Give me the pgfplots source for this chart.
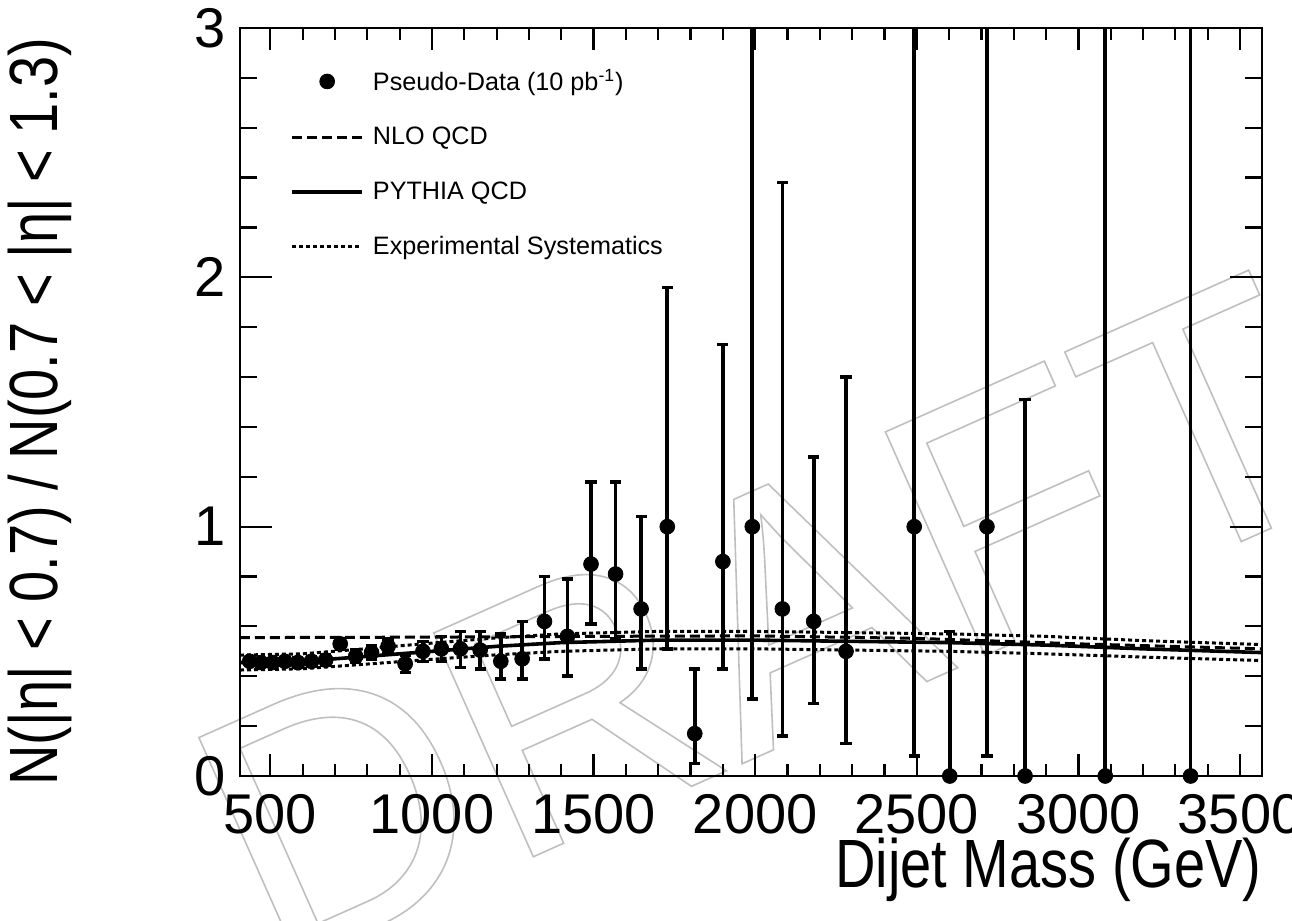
\documentclass[border=0pt]{standalone}
\usepackage{fontspec}
\setmainfont{Liberation Sans}
\usepackage{graphicx}
\usepackage{pgfplots}
\pgfplotsset{compat=1.18}
\usepackage{pgfplotstable}

\pgfplotstableread{
x y ep em
436 0.460 0.015 0.015
471 0.455 0.015 0.015
507 0.455 0.015 0.015
545 0.460 0.015 0.015
585 0.455 0.018 0.018
627 0.460 0.020 0.020
671 0.465 0.020 0.020
716 0.530 0.022 0.022
764 0.480 0.025 0.025
813 0.495 0.028 0.028
864 0.520 0.030 0.030
917 0.450 0.035 0.035
972 0.500 0.040 0.040
1029 0.510 0.050 0.050
1088 0.510 0.070 0.075
1149 0.505 0.075 0.075
1213 0.460 0.110 0.070
1279 0.470 0.150 0.080
1348 0.620 0.180 0.150
1419 0.560 0.230 0.160
1492 0.850 0.330 0.240
1568 0.810 0.370 0.260
1647 0.670 0.370 0.240
1728 1.000 0.960 0.490
1813 0.170 0.260 0.120
1900 0.860 0.870 0.430
1991 1.000 2.500 0.690
2084 0.670 1.710 0.510
2181 0.620 0.660 0.330
2281 0.500 1.100 0.370
2492 1.000 2.500 0.920
2602 0.000 0.580 0.000
2717 1.000 2.500 0.920
2835 0.000 1.510 0.000
3083 0.000 3.500 0.000
3347 0.000 3.500 0.000
}\datatab

\begin{document}
\begin{tikzpicture}
\useasboundingbox (-120pt,-72.5pt) rectangle (526pt,388pt);
\node[rotate=24, text=black!25, font=\fontsize{178}{178}\selectfont] at (262pt,78pt)
  {\special{pdf:literal direct 0.8 w 1 Tr}DRAFT\special{pdf:literal direct 0 Tr}};
\begin{axis}[
  at={(0pt,0pt)}, anchor=south west,
  scale only axis, width=511pt, height=374pt,
  xmin=406, xmax=3568, ymin=0, ymax=3,
  xtick={500,1000,...,3500}, minor x tick num=4,
  ytick={0,1,2,3}, minor y tick num=4,
  tick align=inside, tick pos=both,
  major tick length=13pt, minor tick length=7pt,
  xtick style={/pgfplots/major tick length=11pt, /pgfplots/minor tick length=6pt},
  ytick style={/pgfplots/major tick length=16pt, /pgfplots/minor tick length=8.5pt},
  every tick/.append style={black, line width=1.1pt},
  axis line style={line width=1.2pt},
  tick label style={font=\fontsize{28}{30}\selectfont},
  /pgf/number format/assume math mode=true,
  /pgf/number format/1000 sep={},
  xticklabel style={inner sep=0pt, anchor=north, yshift=-9pt},
  yticklabel style={inner sep=0pt, anchor=east, xshift=-7pt},
  xlabel={\scalebox{1}[1.22]{Dijet Mass (GeV)}},
  ylabel={\scalebox{1}[1.22]{N(|η| < 0.7) / N(0.7 < |η| < 1.3)}},
  every axis x label/.style={at={(axis description cs:1,0)}, anchor=east, yshift=-47pt, inner sep=0pt,
    font=\fontsize{28}{30}\selectfont},
  every axis y label/.style={at={(axis description cs:-0.1957,0.487)}, anchor=center, rotate=90, inner sep=0pt,
    font=\fontsize{28}{30}\selectfont},
  clip mode=individual,
  legend style={draw=none, fill=none, at={(axis description cs:0.0489,0.945)}, anchor=north west,
    inner xsep=0pt, inner ysep=0pt, font=\fontsize{12.6}{15}\selectfont,
    row sep=16.9pt, column sep=4.5pt, nodes={inner sep=0pt}},
  legend cell align=left,
  legend image code/.code={\draw[mark repeat=2, mark phase=2, #1] plot coordinates {(0pt,0pt) (17.5pt,0pt) (35pt,0pt)};},
]
\addlegendimage{only marks, mark=*, mark size=3.7pt, black}
\addlegendentry{Pseudo-Data (10 pb\textsuperscript{-1})}
\addlegendimage{black, line width=1.5pt, dash pattern=on 5pt off 2.5pt}
\addlegendentry{NLO QCD}
\addlegendimage{black, line width=1.8pt}
\addlegendentry{PYTHIA QCD}
\addlegendimage{black, line width=1.5pt, dash pattern=on 2pt off 1.5pt}
\addlegendentry{Experimental Systematics}

% NLO QCD
\addplot[forget plot, black, line width=1.5pt, dash pattern=on 5pt off 2.5pt] coordinates {
(406,0.555) (1000,0.557) (1500,0.560) (2000,0.562) (2500,0.552) (3000,0.530) (3568,0.510)};
% Systematics upper
\addplot[forget plot, black, line width=1.5pt, dash pattern=on 2pt off 1.5pt] coordinates {
(406,0.485) (600,0.490) (800,0.511) (1000,0.533) (1200,0.554) (1400,0.570) (1700,0.580) (2000,0.580) (2300,0.575) (2600,0.570) (2900,0.560) (3200,0.543) (3568,0.527)};
% Systematics lower
\addplot[forget plot, black, line width=1.5pt, dash pattern=on 2pt off 1.5pt] coordinates {
(406,0.425) (600,0.430) (800,0.449) (1000,0.468) (1200,0.486) (1400,0.500) (1700,0.510) (2000,0.510) (2300,0.505) (2600,0.500) (2900,0.490) (3200,0.477) (3568,0.463)};
% PYTHIA QCD
\addplot[forget plot, black, line width=1.8pt] coordinates {
(406,0.455) (600,0.460) (800,0.480) (1000,0.500) (1200,0.520) (1400,0.535) (1700,0.545) (2000,0.545) (2300,0.540) (2600,0.535) (2900,0.525) (3200,0.510) (3568,0.495)};
% Pseudo-data
\addplot[forget plot, only marks, mark=*, mark size=3.7pt, black,
  error bars/.cd, y dir=both, y explicit,
  error bar style={line width=1.8pt, black},
  error mark options={rotate=90, mark size=2.8pt, line width=1.8pt, black}]
  table[x=x, y=y, y error plus=ep, y error minus=em] {\datatab};
\end{axis}
\end{tikzpicture}
\end{document}
